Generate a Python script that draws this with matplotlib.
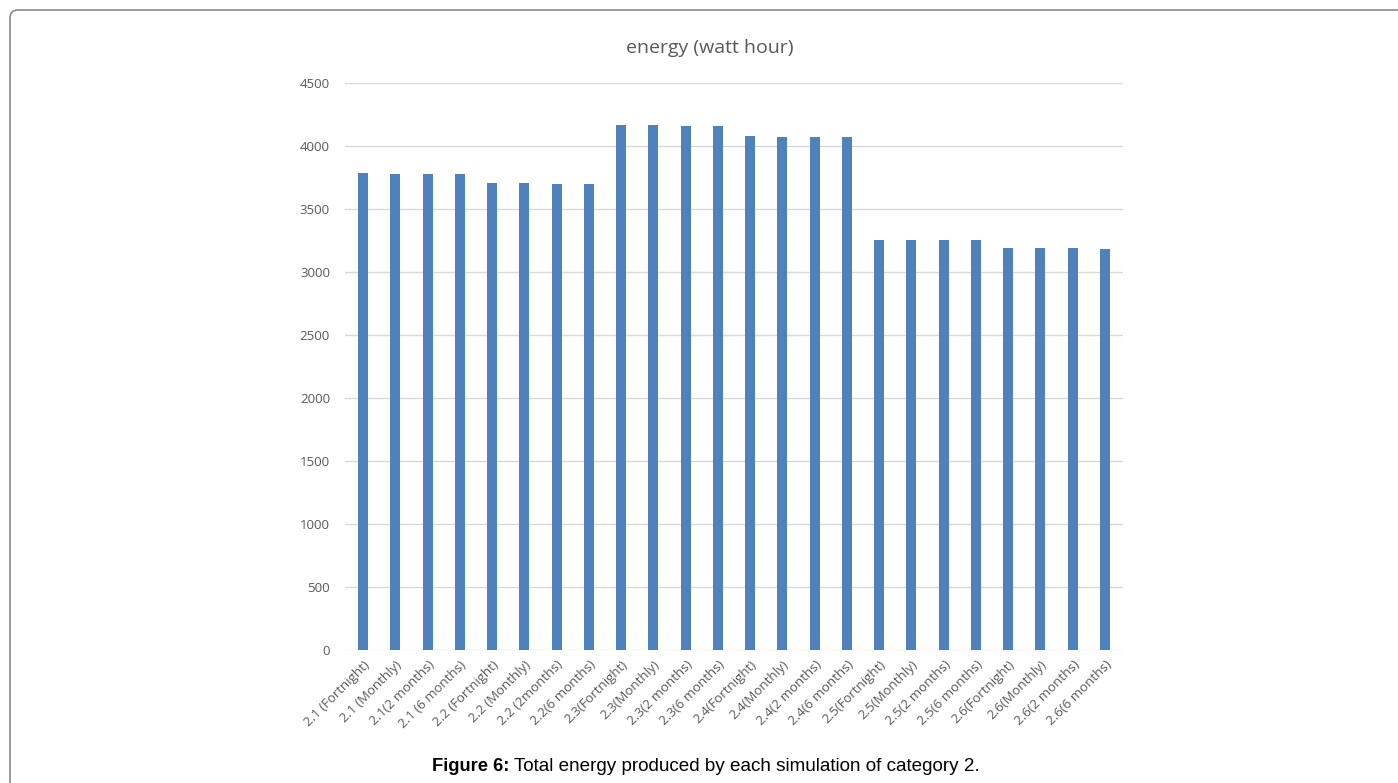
import matplotlib.pyplot as plt
from matplotlib.path import Path
from matplotlib.patches import PathPatch

categorias = [
    '2.1 (Fortnight)', '2.1 (Monthly)', '2.1(2 months)', '2.1 (6 months)',
    '2.2 (Fortnight)', '2.2 (Monthly)', '2.2 (2months)', '2.2(6 months)',
    '2.3(Fortnight)', '2.3(Monthly)', '2.3(2 months)', '2.3(6 months)',
    '2.4(Fortnight)', '2.4(Monthly)', '2.4(2 months)', '2.4(6 months)',
    '2.5(Fortnight)', '2.5(Monthly)', '2.5(2 months)', '2.5(6 months)',
    '2.6(Fortnight)', '2.6(Monthly)', '2.6(2 months)', '2.6(6 months)',
]
energia = [
    3782, 3774, 3774, 3774,
    3704, 3704, 3699, 3699,
    4165, 4165, 4160, 4160,
    4080, 4075, 4075, 4075,
    3255, 3252, 3252, 3252,
    3189, 3189, 3189, 3182,
]
y_ticks = [0, 500, 1000, 1500, 2000, 2500, 3000, 3500, 4000, 4500]

W, H = 1398, 783
fig = plt.figure(figsize=(W / 100, H / 100), dpi=100)
ax = fig.add_axes([0.247, 0.170, 0.556, 0.724])

x = range(len(categorias))
ax.bar(x, energia, width=0.31, color='#4f81bd', zorder=3)

ax.set_ylim(0, 4500)
ax.set_xlim(-0.55, len(categorias) - 0.45)
ax.set_yticks(y_ticks)
ax.set_xticks(list(x))
ax.set_xticklabels(categorias, rotation=45, ha='right', rotation_mode='anchor',
                   fontsize=9.5, color='#595959', family='Open Sans')
for lbl in ax.get_yticklabels():
    lbl.set_family('Open Sans')
ax.tick_params(axis='y', labelsize=9.5, colors='#595959', length=0, pad=11)
ax.tick_params(axis='x', length=0, pad=6)
ax.grid(axis='y', color='#d9d9d9', linewidth=1, zorder=0)
for s in ax.spines.values():
    s.set_visible(False)

# titulo (levemente deslocado para a esquerda como no original)
fig.text(710 / W, 1 - 48 / H, 'energy (watt hour)', fontsize=14, color='#595959',
         family='Open Sans', ha='center', va='center')

# moldura arredondada (so topo e esquerda)
r = 8
verts = [(10 / W, 0), (10 / W, 1 - (10 + r) / H), (10 / W, 1 - 10 / H),
         ((10 + r) / W, 1 - 10 / H), (1, 1 - 10 / H)]
codes = [Path.MOVETO, Path.LINETO, Path.CURVE3, Path.CURVE3, Path.LINETO]
fig.patches.append(PathPatch(Path(verts, codes), transform=fig.transFigure,
                             fill=False, edgecolor='#8a8a8a', linewidth=1.2))

# legenda da figura
fig.text(509 / W, 1 - 771 / H, 'Figure 6:', ha='right', va='baseline',
         fontsize=13.2, fontweight='bold', family='Liberation Sans')
fig.text(514 / W, 1 - 771 / H, 'Total energy produced by each simulation of category 2.',
         ha='left', va='baseline', fontsize=13.6, family='Liberation Sans')

fig.savefig('out.png', dpi=100)
